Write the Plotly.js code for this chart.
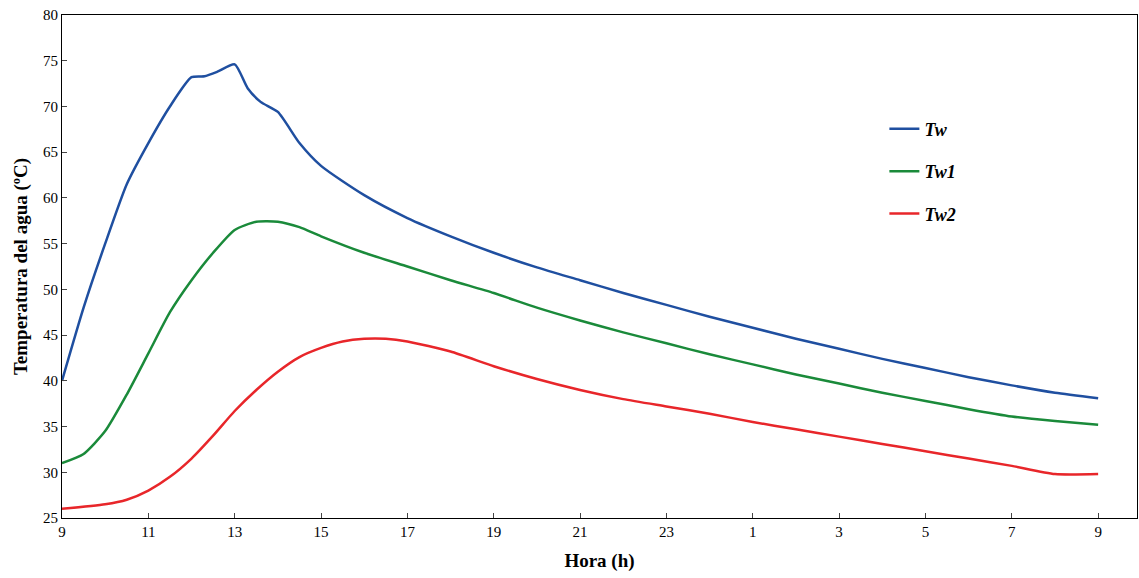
<!DOCTYPE html>
<html><head><script src="https://cdn.plot.ly/plotly-3.0.1.min.js"></script>
<style>body{margin:0}</style></head><body>
<div id="c" style="width:1139px;height:578px"></div>
<script>
const tw_t=[0,0.5,1,1.5,2,2.5,3,3.3,3.6,4,4.3,4.6,5,5.5,6,7,8,9,10,11,12,13,14,15,16,17,18,19,20,21,22,23,24];
const tw_v=[40,48,55,61.5,66,70,73.2,73.3,73.8,74.6,72,70.5,69.4,66,63.5,60.3,57.8,55.8,54,52.4,51,49.6,48.3,47,45.8,44.6,43.5,42.4,41.4,40.4,39.5,38.7,38.1];
const tw1_t=[0,0.5,1,1.5,2,2.5,3,3.5,4,4.5,5,5.5,6,7,8,9,10,11,12,13,14,15,16,17,18,19,20,21,22,23,24];
const tw1_v=[31,32,34.5,38.5,43,47.5,51,54,56.5,57.4,57.4,56.8,55.8,54,52.5,51,49.6,48,46.6,45.3,44.1,42.9,41.8,40.7,39.7,38.7,37.8,36.9,36.1,35.6,35.2];
const tw2_t=[0,1,1.5,2,2.5,3,3.5,4,4.5,5,5.5,6,6.5,7,7.5,8,9,10,11,12,13,14,15,16,17,18,19,20,21,22,23,24];
const tw2_v=[26,26.5,27,28,29.5,31.5,34,36.7,39,41,42.6,43.6,44.3,44.6,44.6,44.3,43.2,41.6,40.2,39,38,37.2,36.4,35.5,34.7,33.9,33.1,32.3,31.5,30.7,29.8,29.8];
const tickVals=[0,2,4,6,8,10,12,14,16,18,20,22,24];
const tickText=["9","11","13","15","17","19","21","23","1","3","5","7","9"];
const f={family:"Liberation Serif, Times New Roman, serif",color:"#000"};
Plotly.newPlot("c",[
{x:tw_t,y:tw_v,name:"Tw",legendgroup:"a",mode:"lines",line:{color:"#1f4fa0",width:2.5,shape:"spline",smoothing:0.6}},
{x:tw1_t,y:tw1_v,name:"Tw1",legendgroup:"b",mode:"lines",line:{color:"#1a8a3a",width:2.5,shape:"spline",smoothing:0.6}},
{x:tw2_t,y:tw2_v,name:"Tw2",legendgroup:"c",mode:"lines",line:{color:"#e8262a",width:2.5,shape:"spline",smoothing:0.6}}
],{
width:1139,height:578,margin:{l:62,r:2,t:15,b:60},
font:Object.assign({size:15},f),plot_bgcolor:"#fff",paper_bgcolor:"#fff",
xaxis:{range:[0,24.9],tickvals:tickVals,ticktext:tickText,showgrid:false,zeroline:false,showline:true,mirror:true,linecolor:"#000",ticks:"inside",ticklen:5,
 title:{text:"<b>Hora (h)</b>",font:Object.assign({size:19},f),standoff:14}},
yaxis:{range:[25,80],dtick:5,showgrid:false,zeroline:false,showline:true,mirror:true,linecolor:"#000",ticks:"inside",ticklen:5,
 title:{text:"<b>Temperatura del agua (ºC)</b>",font:Object.assign({size:19},f),standoff:10}},
legend:{x:0.765,y:0.81,xanchor:"left",yanchor:"top",font:Object.assign({size:18},f),tracegroupgap:16,bgcolor:"rgba(0,0,0,0)"},
showlegend:true
},{displayModeBar:false});
document.querySelectorAll('.legendtext').forEach(e=>{e.style.fontStyle='italic';e.style.fontWeight='bold';});
</script></body></html>
